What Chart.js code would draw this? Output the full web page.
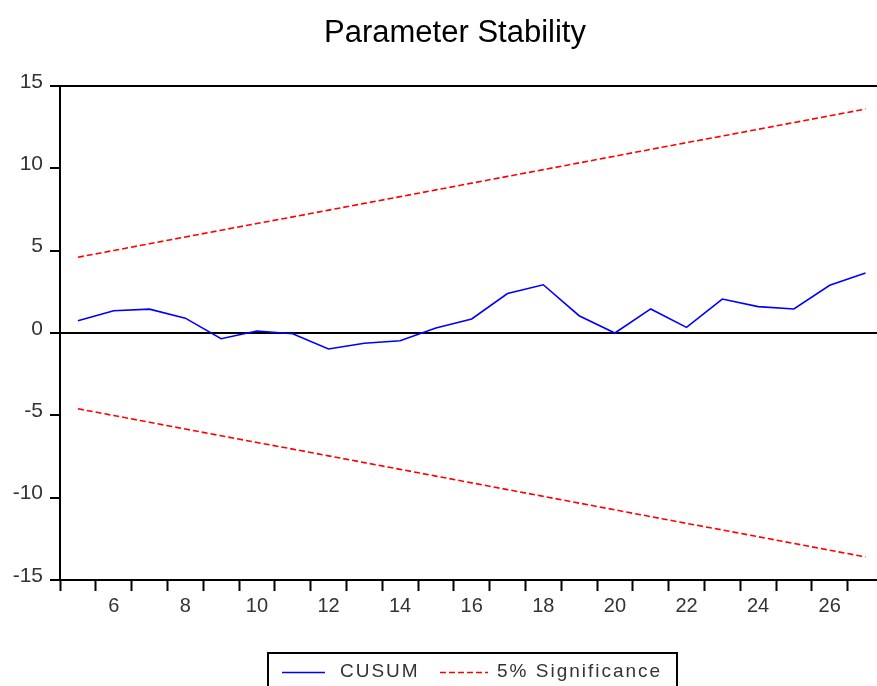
<!DOCTYPE html>
<html>
<head>
<meta charset="utf-8">
<script src="https://cdn.jsdelivr.net/npm/chart.js@4"></script>
<style>
  html, body { margin: 0; padding: 0; overflow: hidden; background: #fff; }
  #wrap { width: 877px; height: 686px; overflow: hidden; }
</style>
</head>
<body>
<div id="wrap"><canvas id="myChart" width="920" height="686"></canvas></div>
<script>
// data
var periods = [5, 6, 7, 8, 9, 10, 11, 12, 13, 14, 15, 16, 17, 18, 19, 20, 21, 22, 23, 24, 25, 26, 27];
var cusum = [0.75, 1.35, 1.45, 0.9, -0.35, 0.12, -0.05, -0.97, -0.62, -0.47, 0.3, 0.85, 2.4, 2.93, 1.05, 0.0, 1.46, 0.34, 2.06, 1.6, 1.46, 2.9, 3.64];
var upperBound = [4.6, 5.01, 5.42, 5.83, 6.24, 6.65, 7.05, 7.46, 7.87, 8.28, 8.69, 9.1, 9.51, 9.92, 10.33, 10.74, 11.15, 11.56, 11.96, 12.37, 12.78, 13.19, 13.6];
var lowerBound = [-4.6, -5.01, -5.42, -5.83, -6.24, -6.65, -7.05, -7.46, -7.87, -8.28, -8.69, -9.1, -9.51, -9.92, -10.33, -10.74, -11.15, -11.56, -11.96, -12.37, -12.78, -13.19, -13.6];
var yTicks = [-15, -10, -5, 0, 5, 10, 15];

var fontFam = "'Liberation Sans', Arial, sans-serif";

// title + boxed legend, drawn by hand
var decoPlugin = {
  id: 'deco',
  afterDraw: function (chart) {
    var ctx = chart.ctx;
    ctx.save();
    ctx.fillStyle = '#000';
    ctx.font = '31px ' + fontFam;
    ctx.textAlign = 'center';
    ctx.textBaseline = 'alphabetic';
    ctx.fillText('Parameter Stability', 455, 42);

    // legend box
    ctx.strokeStyle = '#000';
    ctx.lineWidth = 2;
    ctx.strokeRect(268, 653, 409, 60);

    var ds = chart.data.datasets;
    ctx.font = '19px ' + fontFam;
    ctx.textAlign = 'left';
    ctx.letterSpacing = '2px';
    ctx.fillStyle = '#333';

    ctx.strokeStyle = ds[0].borderColor;
    ctx.lineWidth = 1.5;
    ctx.setLineDash([]);
    ctx.beginPath(); ctx.moveTo(282, 672.5); ctx.lineTo(325, 672.5); ctx.stroke();
    ctx.fillText(ds[0].label, 340, 677);

    ctx.strokeStyle = ds[1].borderColor;
    ctx.setLineDash(ds[1].borderDash);
    ctx.beginPath(); ctx.moveTo(440, 672.5); ctx.lineTo(488, 672.5); ctx.stroke();
    ctx.fillText(ds[1].label, 497, 677);
    ctx.restore();
  }
};

var ctx = document.getElementById('myChart').getContext('2d');
var myChart = new Chart(ctx, {
  type: 'line',
  data: {
    labels: periods,
    datasets: [{
      label: 'CUSUM',
      data: cusum,
      borderColor: '#0000ff',
      borderWidth: 1.6,
      pointRadius: 0,
      tension: 0
    }, {
      label: '5% Significance',
      data: upperBound,
      borderColor: '#ff0000',
      borderWidth: 1.6,
      borderDash: [6, 3],
      pointRadius: 0,
      tension: 0
    }, {
      label: 'lower',
      data: lowerBound,
      borderColor: '#ff0000',
      borderWidth: 1.6,
      borderDash: [6, 3],
      pointRadius: 0,
      tension: 0
    }]
  },
  options: {
    responsive: false,
    animation: false,
    layout: {
      padding: { top: 86, left: 0, right: 36.6, bottom: 56 }
    },
    plugins: {
      legend: { display: false },
      title: { display: false },
      tooltip: { enabled: false }
    },
    scales: {
      x: {
        type: 'category',
        offset: true,
        grid: {
          offset: true,
          drawOnChartArea: false,
          drawTicks: true,
          tickLength: 11,
          tickColor: '#000',
          tickWidth: 2
        },
        border: { display: true, color: '#000', width: 2 },
        ticks: {
          autoSkip: false,
          maxRotation: 0,
          padding: 3,
          color: '#333',
          font: { family: fontFam, size: 20 },
          callback: function (val, i) {
            var p = periods[i];
            return p % 2 === 0 ? String(p) : '';
          }
        },
        afterFit: function (scale) { scale.height = 50; }
      },
      y: {
        min: -15,
        max: 15,
        afterBuildTicks: function (scale) {
          scale.ticks = yTicks.map(function (v) { return { value: v }; });
        },
        grid: {
          drawOnChartArea: true,
          color: function (c) {
            return (c.tick && (c.tick.value === 0 || c.tick.value === 15)) ? '#000' : 'rgba(0,0,0,0)';
          },
          lineWidth: 2,
          tickLength: 10,
          tickColor: '#000',
          tickWidth: 2
        },
        border: { display: true, color: '#000', width: 2 },
        ticks: {
          padding: 7,
          labelOffset: -4,
          color: '#333',
          font: { family: fontFam, size: 21 }
        },
        afterFit: function (scale) { scale.width = 60; }
      }
    }
  },
  plugins: [decoPlugin]
});
</script>
</body>
</html>
